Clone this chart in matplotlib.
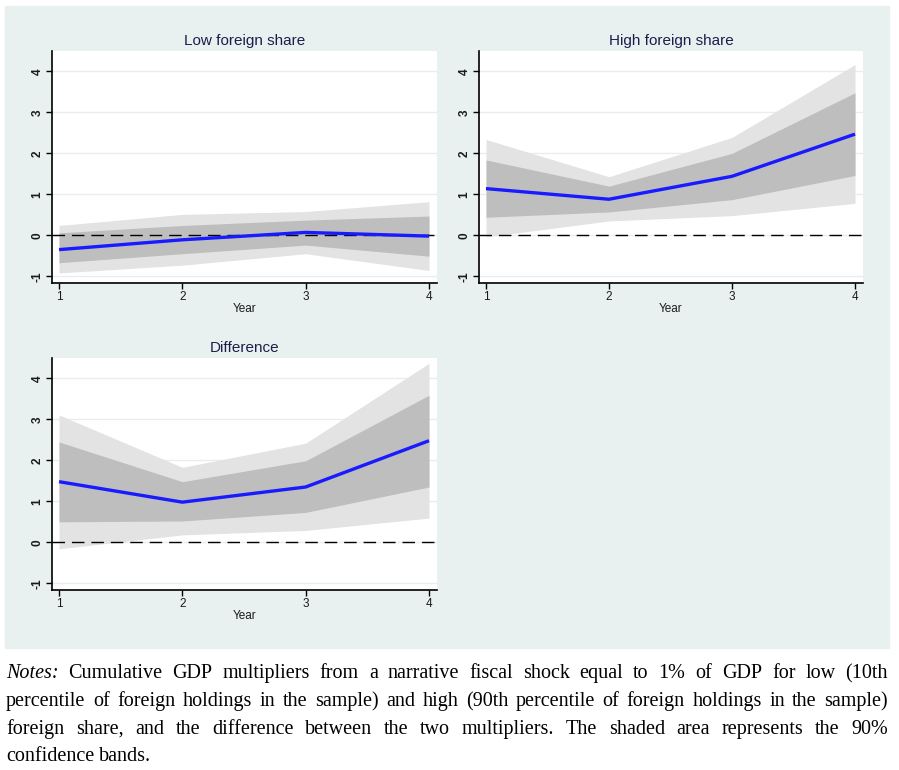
import matplotlib
matplotlib.use("Agg")
import matplotlib.pyplot as plt
from matplotlib.patches import Rectangle

years = [1, 2, 3, 4]

low_mean = [-0.35, -0.11, 0.07, -0.02]
low_in_hi = [0.06, 0.24, 0.37, 0.47]
low_in_lo = [-0.67, -0.45, -0.24, -0.51]
low_out_hi = [0.24, 0.51, 0.58, 0.82]
low_out_lo = [-0.92, -0.73, -0.45, -0.86]

high_mean = [1.14, 0.88, 1.44, 2.47]
high_in_hi = [1.84, 1.20, 2.00, 3.48]
high_in_lo = [0.44, 0.57, 0.87, 1.46]
high_out_hi = [2.34, 1.43, 2.39, 4.17]
high_out_lo = [-0.04, 0.35, 0.48, 0.78]

diff_mean = [1.48, 0.98, 1.35, 2.48]
diff_in_hi = [2.45, 1.48, 1.99, 3.59]
diff_in_lo = [0.50, 0.52, 0.73, 1.35]
diff_out_hi = [3.11, 1.83, 2.42, 4.37]
diff_out_lo = [-0.16, 0.18, 0.29, 0.59]

yticks = [-1, 0, 1, 2, 3, 4]

W, H = 899, 770
bg = "#e8f1f0"
fig = plt.figure(figsize=(W / 100, H / 100), dpi=100)
fig.patches.append(Rectangle((5 / W, 1 - 648 / H), 884 / W, 642 / H,
                             transform=fig.transFigure, color=bg, zorder=-5))


def panel(left, top, right, bottom, title, mean, in_lo, in_hi, out_lo, out_hi):
    ax = fig.add_axes([left / W, 1 - bottom / H, (right - left) / W, (bottom - top) / H])
    ax.set_facecolor("white")
    ax.fill_between(years, out_lo, out_hi, color="#e3e3e3", lw=0, zorder=1)
    ax.fill_between(years, in_lo, in_hi, color="#bebebe", lw=0, zorder=2)
    ax.plot(years, mean, color="#1a1aff", lw=2.4, zorder=4, solid_capstyle="butt")
    ax.axhline(0, color="black", lw=1, ls=(0, (9, 5)), zorder=3)
    ax.set_xlim(0.943, 4.065)
    ax.set_ylim(-1.165, 4.5)
    ax.set_xticks(years)
    ax.set_yticks(yticks)
    ax.set_yticklabels([str(t) for t in yticks], rotation=90, va="center")
    ax.grid(axis="y", color="#e6eef0", lw=1, zorder=0)
    ax.set_axisbelow(True)
    for s in ["top", "right"]:
        ax.spines[s].set_visible(False)
    for s in ["left", "bottom"]:
        ax.spines[s].set_linewidth(1.2)
    ax.tick_params(axis="both", length=4, width=1, labelsize=8.5, colors="black",
                   labelcolor="#1a1a1a", pad=2)
    ax.set_xlabel("Year", fontsize=8.5, color="#1a1a1a", family="Liberation Sans", labelpad=0)
    for lab in ax.get_xticklabels() + ax.get_yticklabels():
        lab.set_family("Liberation Sans")
    for lab in ax.get_yticklabels():
        lab.set_fontweight("bold")
    ax.set_title(title, fontsize=11, color="#1a1f4b", family="Liberation Sans", pad=4)
    return ax


panel(52, 51, 437, 283, "Low foreign share", low_mean, low_in_lo, low_in_hi, low_out_lo, low_out_hi)
panel(479, 51, 863, 283, "High foreign share", high_mean, high_in_lo, high_in_hi, high_out_lo, high_out_hi)
panel(52, 358, 437, 590, "Difference", diff_mean, diff_in_lo, diff_in_hi, diff_out_lo, diff_out_hi)

# justified notes text
lines = [
    "Notes: Cumulative GDP multipliers from a narrative fiscal shock equal to 1% of GDP for low (10th",
    "percentile of foreign holdings in the sample) and high (90th percentile of foreign holdings in the sample)",
    "foreign share, and the difference between the two multipliers.  The shaded area represents the 90%",
    "confidence bands.",
]
baselines = [678, 706, 734, 761]
x0, x1 = 6, 888
renderer = fig.canvas.get_renderer()
for i, (line, yb) in enumerate(zip(lines, baselines)):
    words = line.split()
    texts = []
    for w in words:
        style = "italic" if w == "Notes:" else "normal"
        t = fig.text(0, 1 - yb / H, w, fontsize=14.5, family="Liberation Serif",
                     style=style, va="baseline", ha="left", color="black")
        texts.append(t)
    widths = [t.get_window_extent(renderer).width for t in texts]
    if i < len(lines) - 1:
        gap = (x1 - x0 - sum(widths)) / (len(words) - 1)
    else:
        gap = 5
    x = x0
    for t, w in zip(texts, widths):
        t.set_x(x / W)
        x += w + gap

fig.savefig("out.png", dpi=100)
